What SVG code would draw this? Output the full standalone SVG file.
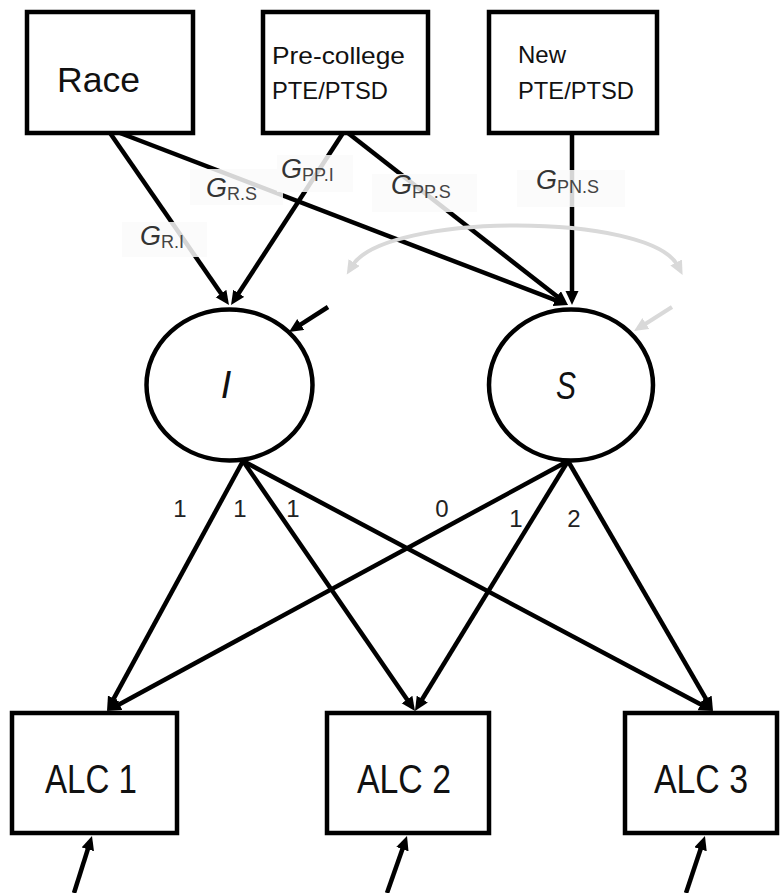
<svg xmlns="http://www.w3.org/2000/svg" width="780" height="893" viewBox="0 0 780 893">
<defs>
<style>
.box{fill:#fff;stroke:#000;stroke-width:4.5}
.lat{fill:#fff;stroke:#000;stroke-width:4.5}
.edge{fill:none;stroke:#000;stroke-width:4.5}
.grey{fill:none;stroke:#d9d9d9;stroke-width:4}
.t{font-family:"Liberation Sans",Arial,sans-serif;fill:#111}
.num{font-family:"Liberation Sans",Arial,sans-serif;font-size:24px;fill:#222;text-anchor:middle}
.g{font-family:"Liberation Sans",Arial,sans-serif;font-style:italic;font-size:27px;fill:#333}
.sub{font-family:"Liberation Sans",Arial,sans-serif;font-style:normal;font-size:18px;fill:#444}
.lab{fill:#fafafa;opacity:0.85}
</style>
<marker id="ah" markerUnits="userSpaceOnUse" markerWidth="16" markerHeight="14" refX="4" refY="6.5" orient="auto">
<path d="M0,0 L14,6.5 L0,13 z" fill="#000"/>
</marker>
<marker id="ahg" markerUnits="userSpaceOnUse" markerWidth="16" markerHeight="14" refX="4" refY="6.5" orient="auto-start-reverse">
<path d="M0,0 L14,6.5 L0,13 z" fill="#d9d9d9"/>
</marker>
</defs>
<rect width="780" height="893" fill="#fff"/>

<g id="connectors">
<line class="edge" x1="110" y1="133" x2="223.3" y2="296.8" marker-end="url(#ah)"/>
<line class="edge" x1="120" y1="133" x2="558.7" y2="301.4" marker-end="url(#ah)"/>
<line class="edge" x1="343" y1="133" x2="236.5" y2="296.6" marker-end="url(#ah)"/>
<line class="edge" x1="348" y1="133" x2="560.1" y2="298.8" marker-end="url(#ah)"/>
<line class="edge" x1="572" y1="133" x2="572" y2="295" marker-end="url(#ah)"/>
<line class="edge" x1="328" y1="307" x2="297.4" y2="326.6" marker-end="url(#ah)"/>
<line class="grey" x1="672" y1="307" x2="642.5" y2="325.7" marker-end="url(#ahg)"/>
<path class="grey" d="M352,266 C385,212 650,212 678,266" marker-start="url(#ahg)" marker-end="url(#ahg)"/>
<line class="edge" x1="243" y1="461" x2="111.8" y2="702.2" marker-end="url(#ah)"/>
<line class="edge" x1="243" y1="461" x2="409.3" y2="702.8" marker-end="url(#ah)"/>
<line class="edge" x1="243" y1="461" x2="704.2" y2="706.3" marker-end="url(#ah)"/>
<line class="edge" x1="568" y1="461" x2="115.8" y2="706.2" marker-end="url(#ah)"/>
<line class="edge" x1="568" y1="461" x2="420.2" y2="702.5" marker-end="url(#ah)"/>
<line class="edge" x1="568" y1="461" x2="708" y2="702.3" marker-end="url(#ah)"/>
<line class="edge" x1="74" y1="893" x2="89" y2="845.5" marker-end="url(#ah)"/>
<line class="edge" x1="387" y1="893" x2="403.7" y2="845.4" marker-end="url(#ah)"/>
<line class="edge" x1="686" y1="893" x2="701.8" y2="845.5" marker-end="url(#ah)"/>
</g>

<g id="labels">
<rect class="lab" x="122" y="222" width="85" height="35"/>
<text class="g" x="140" y="245">G<tspan class="sub" dy="3">R.I</tspan></text>
<rect class="lab" x="190" y="169" width="93" height="36"/>
<text class="g" x="206" y="197">G<tspan class="sub" dy="3">R.S</tspan></text>
<rect class="lab" x="277" y="155" width="76" height="37"/>
<text class="g" x="281" y="178">G<tspan class="sub" dy="3">PP.I</tspan></text>
<rect class="lab" x="372" y="174" width="105" height="38"/>
<text class="g" x="391" y="194">G<tspan class="sub" dy="4">PP.S</tspan></text>
<rect class="lab" x="517" y="170" width="108" height="37"/>
<text class="g" x="536" y="189">G<tspan class="sub" dy="4">PN.S</tspan></text>
<text class="num" x="180" y="517">1</text>
<text class="num" x="240" y="517">1</text>
<text class="num" x="293" y="517">1</text>
<text class="num" x="442" y="517">0</text>
<text class="num" x="516" y="527">1</text>
<text class="num" x="574" y="527">2</text>
</g>

<g id="race">
<rect class="box" x="27" y="12" width="166" height="121"/>
<text class="t" x="57" y="92" font-size="35" textLength="83" lengthAdjust="spacingAndGlyphs">Race</text>
</g>
<g id="precollege">
<rect class="box" x="263" y="12" width="165" height="121"/>
<text class="t" x="272" y="64" font-size="24" textLength="133" lengthAdjust="spacingAndGlyphs">Pre-college</text>
<text class="t" x="272" y="99" font-size="24" textLength="116" lengthAdjust="spacingAndGlyphs">PTE/PTSD</text>
</g>
<g id="newpte">
<rect class="box" x="489" y="12" width="168" height="121"/>
<text class="t" x="518" y="63" font-size="24">New</text>
<text class="t" x="518" y="99" font-size="24" textLength="116" lengthAdjust="spacingAndGlyphs">PTE/PTSD</text>
</g>

<g id="I">
<ellipse class="lat" cx="229.5" cy="385" rx="83" ry="75.5"/>
<text class="t" x="226" y="398" font-size="38" font-style="italic" text-anchor="middle">I</text>
</g>
<g id="S">
<ellipse class="lat" cx="571" cy="385" rx="82" ry="75.5"/>
<text class="t" x="566" y="399" font-size="38" font-style="italic" text-anchor="middle" textLength="20" lengthAdjust="spacingAndGlyphs">S</text>
</g>

<g id="alc1">
<rect class="box" x="12" y="713" width="165" height="120"/>
<text class="t" x="45" y="793" font-size="40" textLength="92" lengthAdjust="spacingAndGlyphs">ALC 1</text>
</g>
<g id="alc2">
<rect class="box" x="327" y="713" width="162" height="120"/>
<text class="t" x="357" y="793" font-size="40" textLength="94" lengthAdjust="spacingAndGlyphs">ALC 2</text>
</g>
<g id="alc3">
<rect class="box" x="625" y="713" width="152" height="120"/>
<text class="t" x="654" y="793" font-size="40" textLength="94" lengthAdjust="spacingAndGlyphs">ALC 3</text>
</g>
</svg>
